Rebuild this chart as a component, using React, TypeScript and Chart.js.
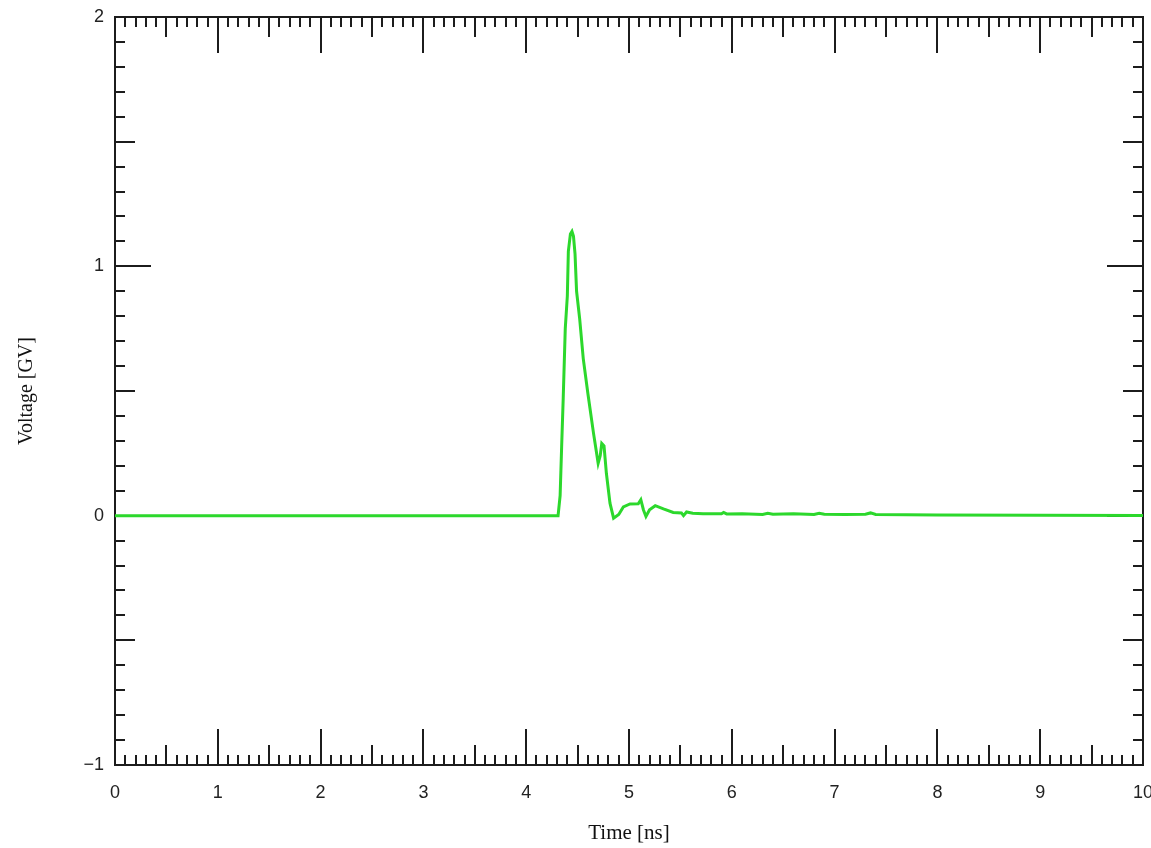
import React, { useEffect, useRef } from 'react';
import { Chart, registerables } from 'chart.js';

Chart.register(...registerables);

// Time axis (ns) and voltage (GV)
const timeNs = [
  0, 4.31, 4.33, 4.345, 4.36, 4.38, 4.4, 4.41, 4.43, 4.445, 4.46, 4.475, 4.49,
  4.52, 4.555, 4.6, 4.655, 4.7, 4.72, 4.735, 4.757, 4.78, 4.815, 4.85, 4.9,
  4.945, 5.01, 5.09, 5.115, 5.14, 5.165, 5.2, 5.255, 5.335, 5.43, 5.51, 5.53,
  5.56, 5.62, 5.72, 5.9, 5.92, 5.95, 6.1, 6.3, 6.35, 6.4, 6.6, 6.8, 6.85, 6.9,
  7.1, 7.3, 7.35, 7.4, 8.0, 10,
];
const voltageGV = [
  0, 0, 0.08, 0.28, 0.47, 0.75, 0.88, 1.06, 1.13, 1.14, 1.12, 1.05, 0.9,
  0.79, 0.63, 0.49, 0.33, 0.21, 0.24, 0.29, 0.28, 0.17, 0.05, -0.01, 0.005,
  0.035, 0.047, 0.048, 0.064, 0.024, -0.003, 0.024, 0.04, 0.027, 0.013, 0.011, 0.0,
  0.015, 0.01, 0.008, 0.008, 0.013, 0.007, 0.008, 0.005, 0.01, 0.006, 0.008, 0.005, 0.01, 0.006,
  0.005, 0.006, 0.011, 0.005, 0.003, 0.001,
];

const xMin = 0;
const xMax = 10;
const xMajorStep = 1;
const yMin = -1;
const yMax = 2;
const yMajorStep = 1;
const minorDivisions = 10; // minor ticks per major interval
const xTitle = 'Time [ns]';
const yTitle = 'Voltage [GV]';

const frameTicksPlugin = {
  id: 'frameTicks',
  beforeDatasetsDraw(chart: any) {
    const { ctx, chartArea: a, scales } = chart;
    const xs = scales.x;
    const ys = scales.y;
    ctx.save();
    ctx.strokeStyle = '#1c1c1c';
    ctx.lineWidth = 2;
    ctx.strokeRect(a.left, a.top, a.right - a.left, a.bottom - a.top);
    ctx.beginPath();
    const nx = Math.round((xMax - xMin) / xMajorStep) * minorDivisions;
    for (let i = 1; i < nx; i++) {
      const v = xMin + (i * xMajorStep) / minorDivisions;
      const px = Math.round(xs.getPixelForValue(v));
      const len = i % minorDivisions === 0 ? 36 : i % (minorDivisions / 2) === 0 ? 20 : 10;
      ctx.moveTo(px, a.bottom);
      ctx.lineTo(px, a.bottom - len);
      ctx.moveTo(px, a.top);
      ctx.lineTo(px, a.top + len);
    }
    const ny = Math.round((yMax - yMin) / yMajorStep) * minorDivisions;
    for (let i = 1; i < ny; i++) {
      const v = yMin + (i * yMajorStep) / minorDivisions;
      const py = Math.round(ys.getPixelForValue(v));
      const len = i % minorDivisions === 0 ? 36 : i % (minorDivisions / 2) === 0 ? 20 : 10;
      ctx.moveTo(a.left, py);
      ctx.lineTo(a.left + len, py);
      ctx.moveTo(a.right, py);
      ctx.lineTo(a.right - len, py);
    }
    ctx.stroke();
    ctx.restore();
  },
};

export default function App() {
  const canvasRef = useRef<HTMLCanvasElement | null>(null);

  useEffect(() => {
    const canvas = canvasRef.current;
    if (!canvas) return;
    const points = timeNs.map((t, i) => ({ x: t, y: voltageGV[i] }));
    const chart = new Chart(canvas, {
      type: 'line',
      data: {
        datasets: [
          {
            data: points,
            borderColor: 'rgb(44, 216, 44)',
            borderWidth: 3,
            pointRadius: 0,
            tension: 0,
            fill: false,
          },
        ],
      },
      options: {
        animation: false,
        responsive: false,
        devicePixelRatio: 1,
        layout: { padding: { left: 0, right: 8, top: 17, bottom: 0 } },
        plugins: { legend: { display: false }, tooltip: { enabled: false } },
        scales: {
          x: {
            type: 'linear',
            min: xMin,
            max: xMax,
            grid: { display: false, drawTicks: false },
            border: { display: false },
            ticks: {
              stepSize: xMajorStep,
              autoSkip: false,
              maxRotation: 0,
              padding: 17,
              color: '#222',
              font: { family: 'Liberation Sans', size: 18 },
            },
            title: {
              display: true,
              text: xTitle,
              color: '#111',
              font: { family: 'Liberation Serif', size: 21 },
              padding: { top: 0, bottom: 2 },
            },
            afterFit(scale: any) {
              scale.height = 83;
              scale.paddingLeft = 0;
              scale.paddingRight = 0;
            },
          },
          y: {
            type: 'linear',
            min: yMin,
            max: yMax,
            grid: { display: false, drawTicks: false },
            border: { display: false },
            ticks: {
              stepSize: yMajorStep,
              padding: 11,
              color: '#222',
              font: { family: 'Liberation Sans', size: 18 },
              callback: (v: any) => (Number(v) < 0 ? '\u2212' + Math.abs(Number(v)) : String(v)),
            },
            title: {
              display: true,
              text: yTitle,
              color: '#111',
              font: { family: 'Liberation Serif', size: 20 },
              padding: { top: 15, bottom: 0 },
            },
            afterFit(scale: any) {
              scale.width = 115;
              scale.paddingTop = 0;
              scale.paddingBottom = 0;
            },
          },
        },
      },
      plugins: [frameTicksPlugin],
    });
    return () => chart.destroy();
  }, []);

  return (
    <div style={{ position: 'absolute', left: 0, top: 0, width: 1151, height: 848, background: '#fff' }}>
      <canvas ref={canvasRef} width={1151} height={848} style={{ display: 'block' }} />
    </div>
  );
}
